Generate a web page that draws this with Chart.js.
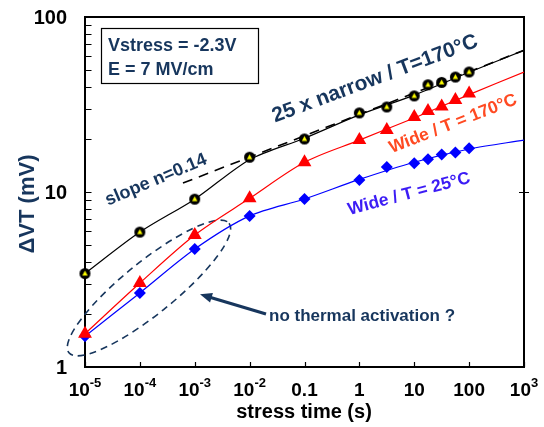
<!DOCTYPE html>
<html><head><meta charset="utf-8">
<script src="https://cdn.jsdelivr.net/npm/chart.js@4.4.1/dist/chart.umd.min.js"></script>
<style>html,body{margin:0;padding:0;background:#fff;} canvas{display:block;}</style>
</head><body>
<canvas id="c" width="544" height="427"></canvas>
<script>
// ---- data ----
const times = [1e-5, 1e-4, 1e-3, 1e-2, 0.1, 1, 3.16, 10, 17.8, 31.6, 56.2, 100];
const narrow170 = [3.42, 5.9, 9.1, 15.8, 20.1, 28.3, 30.6, 35.4, 41.0, 42.3, 45.4, 48.5];
const wide170   = [1.55, 3.02, 5.68, 9.2, 14.8, 19.8, 22.6, 26.8, 29.0, 30.8, 33.6, 36.5];
const wide25    = [1.50, 2.65, 4.72, 7.3, 9.12, 11.7, 13.9, 14.6, 15.4, 16.4, 16.8, 17.8];

const fitTimes = [1e-5, 1e-4, 1e-3, 1e-2, 0.1, 1, 10, 100, 1000];
const narrowFit  = [3.42, 5.9, 9.1, 15.3, 20.3, 27.6, 35.8, 48.3, 64.5];
const wide170Fit = [1.55, 3.02, 5.68, 9.2, 14.8, 19.8, 26.5, 36.0, 48.5];
const wide25Fit  = [1.50, 2.65, 4.72, 7.3, 9.12, 11.8, 14.8, 17.6, 19.8];

const slopeTimes = [6.1e-4, 1000];
const slopeVals  = [11.25, 64.5];

const xTickValues = [1e-5, 1e-4, 1e-3, 1e-2, 0.1, 1, 10, 100, 1000];
const xTickBase   = ['10', '10', '10', '10', '0.1', '1', '10', '100', '10'];
const xTickExp    = ['-5', '-4', '-3', '-2', '', '', '', '', '3'];
const yTickValues = [1, 10, 100];
const yTickLabels = ['1', '10', '100'];

const NAVY = '#17365d';
const FONT = '"Liberation Sans", Arial, sans-serif';
const pts = (xs, ys) => xs.map((x, i) => ({x: x, y: ys[i]}));

function narrowMarker() {
  const c = document.createElement('canvas');
  c.width = 13; c.height = 13;
  const g = c.getContext('2d');
  g.fillStyle = '#000';
  g.beginPath(); g.arc(6.5, 6.5, 5.5, 0, Math.PI * 2); g.fill();
  g.fillStyle = '#ffff00';
  g.beginPath(); g.moveTo(6.5, 3.6); g.lineTo(9.2, 8.4); g.lineTo(3.8, 8.4); g.closePath(); g.fill();
  return c;
}

const decor = {
  id: 'decor',
  beforeDatasetsDraw(chart) {
    const ctx = chart.ctx, a = chart.chartArea;
    const xs = chart.scales.x, ys = chart.scales.y;
    ctx.save();
    ctx.strokeStyle = '#000';
    ctx.lineWidth = 2;
    ctx.strokeRect(a.left, a.top, a.right - a.left, a.bottom - a.top);
    ctx.lineWidth = 1.2;
    ctx.beginPath();
    for (let d = 1; d < 100; d *= 10) {
      for (let m = 1; m <= 10; m++) {
        const py = Math.round(ys.getPixelForValue(m * d)) + 0.5;
        ctx.moveTo(a.left, py); ctx.lineTo(a.left + 6.5, py);
      }
    }
    const p10 = Math.round(ys.getPixelForValue(10)) + 0.5;
    ctx.moveTo(a.right - 5, p10); ctx.lineTo(a.right + 5, p10);
    xTickValues.forEach(v => {
      const px = Math.round(xs.getPixelForValue(v)) + 0.5;
      ctx.moveTo(px, a.bottom); ctx.lineTo(px, a.bottom - 5);
    });
    ctx.stroke();

    ctx.fillStyle = '#000';
    ctx.textBaseline = 'alphabetic';
    xTickValues.forEach((v, i) => {
      const px = xs.getPixelForValue(v);
      ctx.font = 'bold 19px ' + FONT;
      const wb = ctx.measureText(xTickBase[i]).width;
      let we = 0;
      if (xTickExp[i]) {
        ctx.font = 'bold 13px ' + FONT;
        we = ctx.measureText(xTickExp[i]).width;
      }
      const x0 = px - (wb + we) / 2;
      ctx.font = 'bold 19px ' + FONT;
      ctx.textAlign = 'left';
      ctx.fillText(xTickBase[i], x0, 396);
      if (xTickExp[i]) {
        ctx.font = 'bold 13px ' + FONT;
        ctx.fillText(xTickExp[i], x0 + wb, 387);
      }
    });
    ctx.font = 'bold 20px ' + FONT;
    ctx.textAlign = 'right';
    ctx.textBaseline = 'middle';
    yTickValues.forEach((v, i) => {
      ctx.fillText(yTickLabels[i], 67, ys.getPixelForValue(v) + 1);
    });

    ctx.textAlign = 'center';
    ctx.textBaseline = 'alphabetic';
    ctx.font = 'bold 20px ' + FONT;
    ctx.fillStyle = '#000';
    ctx.fillText('stress time (s)', 304, 418);
    ctx.save();
    ctx.translate(28, 204);
    ctx.rotate(-Math.PI / 2);
    ctx.textBaseline = 'middle';
    ctx.fillStyle = NAVY;
    ctx.font = 'bold 22px ' + FONT;
    ctx.fillText('\u0394VT (mV)', 0, 0);
    ctx.restore();

    ctx.strokeStyle = NAVY;
    ctx.lineWidth = 1.6;
    ctx.setLineDash([7, 5]);
    ctx.beginPath();
    ctx.ellipse(149, 288, 103, 26, -39 * Math.PI / 180, 0, Math.PI * 2);
    ctx.stroke();
    ctx.setLineDash([]);
    ctx.restore();
  },
  afterDatasetsDraw(chart) {
    const ctx = chart.ctx;
    ctx.save();
    ctx.fillStyle = '#fff';
    ctx.fillRect(101, 28, 157, 55);
    ctx.strokeStyle = '#000';
    ctx.lineWidth = 1.2;
    ctx.strokeRect(101.5, 28.5, 157, 55);
    ctx.fillStyle = NAVY;
    ctx.font = 'bold 18px ' + FONT;
    ctx.textAlign = 'left';
    ctx.textBaseline = 'alphabetic';
    ctx.fillText('Vstress = -2.3V', 108, 51);
    ctx.fillText('E = 7 MV/cm', 108, 75);

    const rot = (txt, cx, cy, deg, font, color) => {
      ctx.save();
      ctx.translate(cx, cy);
      ctx.rotate(deg * Math.PI / 180);
      ctx.font = font;
      ctx.fillStyle = color;
      ctx.textAlign = 'center';
      ctx.textBaseline = 'middle';
      ctx.fillText(txt, 0, 0);
      ctx.restore();
    };
    rot('25 x narrow / T=170\u00B0C', 375, 79, -20.5, 'bold 21px ' + FONT, NAVY);
    rot('Wide / T = 170\u00B0C', 453, 124, -21.5, 'bold 17.5px ' + FONT, '#ff4a22');
    rot('Wide / T = 25\u00B0C', 409, 194, -15, 'bold 17.5px ' + FONT, '#3c1cf5');
    rot('slope n=0.14', 156, 180, -23, 'bold 18px ' + FONT, NAVY);

    ctx.fillStyle = NAVY;
    ctx.font = 'bold 17px ' + FONT;
    ctx.textAlign = 'left';
    ctx.textBaseline = 'alphabetic';
    ctx.fillText('no thermal activation ?', 269, 321);

    ctx.strokeStyle = NAVY;
    ctx.lineWidth = 3;
    const x1 = 266, y1 = 314, x2 = 209, y2 = 297;
    ctx.beginPath(); ctx.moveTo(x1, y1); ctx.lineTo(x2, y2); ctx.stroke();
    const ang = Math.atan2(y2 - y1, x2 - x1);
    const tx = 200, ty = 294.3;
    ctx.beginPath();
    ctx.moveTo(tx, ty);
    ctx.lineTo(tx - 12 * Math.cos(ang) + 5 * Math.sin(ang), ty - 12 * Math.sin(ang) - 5 * Math.cos(ang));
    ctx.lineTo(tx - 12 * Math.cos(ang) - 5 * Math.sin(ang), ty - 12 * Math.sin(ang) + 5 * Math.cos(ang));
    ctx.closePath();
    ctx.fill();
    ctx.restore();
  }
};

const marker = narrowMarker();
new Chart(document.getElementById('c'), {
  type: 'scatter',
  data: {
    datasets: [
      { label: '25 x narrow / T=170°C', data: pts(times, narrow170), pointStyle: marker, pointRadius: 6, showLine: false, clip: false },
      { label: 'Wide / T = 170°C', data: pts(times, wide170), pointStyle: 'triangle', pointRadius: 8,
        backgroundColor: '#ff0000', borderColor: '#ff0000', borderWidth: 0, showLine: false, clip: false },
      { label: 'Wide / T = 25°C', data: pts(times, wide25), pointStyle: 'rectRot', pointRadius: 6,
        backgroundColor: '#0000ff', borderColor: '#0000ff', borderWidth: 0, showLine: false, clip: false },
      { label: 'fit narrow', data: pts(fitTimes, narrowFit), showLine: true, pointRadius: 0, borderColor: '#000',
        borderWidth: 1.2, tension: 0.3 },
      { label: 'fit wide 170', data: pts(fitTimes, wide170Fit), showLine: true, pointRadius: 0, borderColor: '#ff0000',
        borderWidth: 1.2, tension: 0.3 },
      { label: 'fit wide 25', data: pts(fitTimes, wide25Fit), showLine: true, pointRadius: 0, borderColor: '#0000ff',
        borderWidth: 1.2, tension: 0.3 },
      { label: 'slope', data: pts(slopeTimes, slopeVals), showLine: true, pointRadius: 0, borderColor: '#000',
        borderWidth: 1.6, borderDash: [10, 7] }
    ]
  },
  options: {
    responsive: false,
    animation: false,
    devicePixelRatio: 1,
    layout: { padding: { left: 85, right: 20, top: 17, bottom: 60 } },
    plugins: { legend: { display: false }, tooltip: { enabled: false } },
    scales: {
      x: { type: 'logarithmic', min: 1e-5, max: 1000, display: false },
      y: { type: 'logarithmic', min: 1, max: 100, display: false }
    }
  },
  plugins: [decor]
});
</script>
</body></html>
